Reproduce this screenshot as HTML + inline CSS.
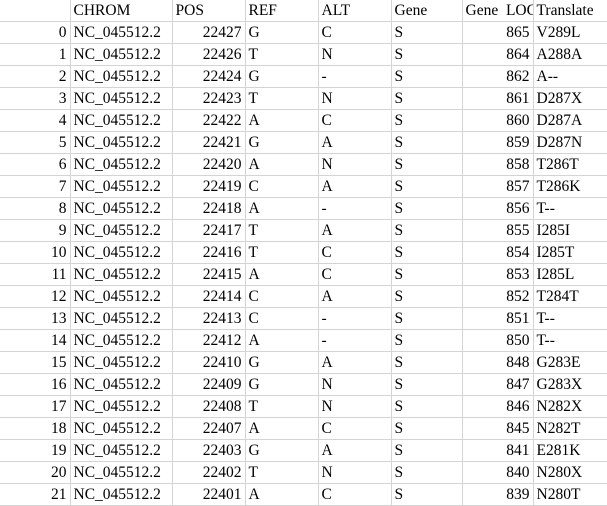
<!DOCTYPE html>
<html><head><meta charset="utf-8"><style>
body{margin:0;background:#fff;width:607px;height:506px;overflow:hidden;font-family:"Liberation Serif",serif;font-size:15.5px;color:#000}
table{border-collapse:collapse;table-layout:fixed;width:607px}
td{height:21px;padding:0 3px;border-bottom:1px solid #d4d4d4;border-left:1px solid #d4d4d4;white-space:nowrap;overflow:hidden;line-height:21px}
td:first-child{border-left:none;text-align:right}
td.r{text-align:right}
tr.h td{border-bottom:1px solid #d4d4d4}
</style></head><body>
<table>
<colgroup><col style="width:70px"><col style="width:102px"><col style="width:73px"><col style="width:73px"><col style="width:73px"><col style="width:71px"><col style="width:71px"><col style="width:74px"></colgroup>
<tbody id="tb">
<tr class="h"><td></td><td>CHROM</td><td>POS</td><td>REF</td><td>ALT</td><td>Gene</td><td style="padding-right:0">Gene&nbsp; LOC</td><td>Translate</td></tr>
</tbody></table>
<script>
const pos=[22427,22426,22424,22423,22422,22421,22420,22419,22418,22417,22416,22415,22414,22413,22412,22410,22409,22408,22407,22403,22402,22401];
const refs=["G","T","G","T","A","G","A","C","A","T","T","A","C","C","A","G","G","T","A","G","T","A"];
const alts=["C","N","-","N","C","A","N","A","-","A","C","C","A","-","-","A","N","N","C","A","N","C"];
const locs=[865,864,862,861,860,859,858,857,856,855,854,853,852,851,850,848,847,846,845,841,840,839];
const trans=["V289L","A288A","A--","D287X","D287A","D287N","T286T","T286K","T--","I285I","I285T","I285L","T284T","T--","T--","G283E","G283X","N282X","N282T","E281K","N280X","N280T"];
const tb=document.getElementById('tb');
for(let i=0;i<pos.length;i++){
 const tr=document.createElement('tr');
 
 
 tr.innerHTML='<td>'+i+'</td><td>NC_045512.2</td><td class="r">'+pos[i]+'</td><td>'+refs[i]+'</td><td>'+alts[i]+'</td><td>S</td><td class="r">'+locs[i]+'</td><td>'+trans[i]+'</td>';
 tb.appendChild(tr);
}
</script>
</body></html>
